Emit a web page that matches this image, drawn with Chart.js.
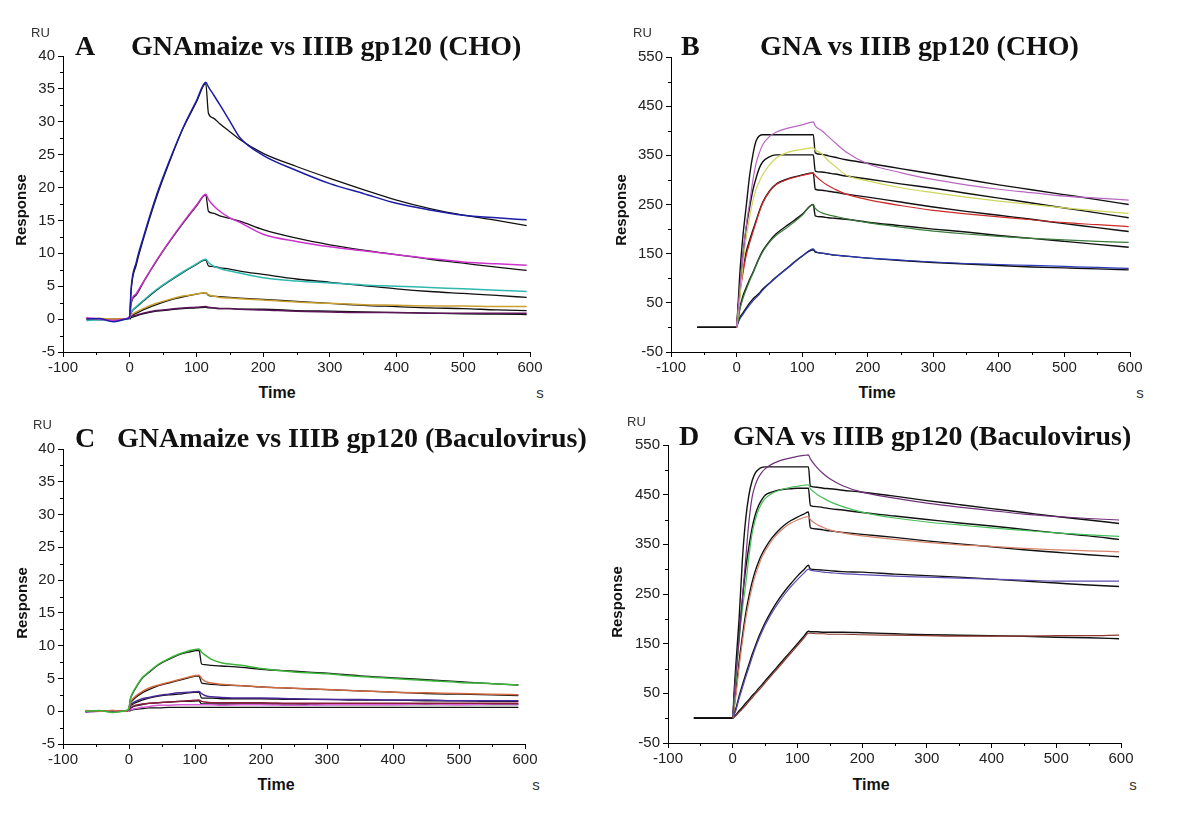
<!DOCTYPE html>
<html>
<head>
<meta charset="utf-8">
<script src="https://cdn.jsdelivr.net/npm/chart.js@4.4.0/dist/chart.umd.min.js"></script>
<style>
    body { margin: 0; width: 1200px; height: 815px; background: #fff; position: relative; overflow: hidden; font-family: "Liberation Sans", Arial, sans-serif; }
    canvas { position: absolute; }
    .txt { position: absolute; white-space: nowrap; line-height: 1; color: #111; }
    .ttl { font-family: "Liberation Serif", "Times New Roman", serif; font-weight: bold; font-size: 28px; }
    .ru { font-size: 13px; color: #333; }
    .ax { font-size: 16px; font-weight: bold; transform: translateX(-50%); }
    .unit { font-size: 15px; color: #333; transform: translateX(-50%); }
    .resp { font-size: 15px; font-weight: bold; transform: translate(-50%, -50%) rotate(-90deg); }
</style>
</head>
<body>
<canvas id="chartA" width="537" height="338" style="left:13px; top:44px;"></canvas>
<canvas id="chartB" width="529" height="337" style="left:621px; top:45px;"></canvas>
<canvas id="chartC" width="532" height="337" style="left:13px; top:437px;"></canvas>
<canvas id="chartD" width="523" height="340" style="left:618px; top:433px;"></canvas>

<div class="txt ttl" style="left:75px; top:32px;">A</div>
<div class="txt ttl" style="left:131px; top:32px;">GNAmaize vs IIIB gp120 (CHO)</div>
<div class="txt ttl" style="left:681px; top:32px;">B</div>
<div class="txt ttl" style="left:760px; top:32px;">GNA vs IIIB gp120 (CHO)</div>
<div class="txt ttl" style="left:75px; top:424px;">C</div>
<div class="txt ttl" style="left:117px; top:424px;">GNAmaize vs IIIB gp120 (Baculovirus)</div>
<div class="txt ttl" style="left:679px; top:422px;">D</div>
<div class="txt ttl" style="left:733px; top:422px;">GNA vs IIIB gp120 (Baculovirus)</div>

<div class="txt ru" style="left:31px; top:26px;">RU</div>
<div class="txt ru" style="left:633px; top:26px;">RU</div>
<div class="txt ru" style="left:33px; top:418px;">RU</div>
<div class="txt ru" style="left:627px; top:415px;">RU</div>

<div class="txt resp" style="left:20px; top:210px;">Response</div>
<div class="txt resp" style="left:620px; top:210px;">Response</div>
<div class="txt resp" style="left:21px; top:603px;">Response</div>
<div class="txt resp" style="left:616px; top:602px;">Response</div>

<div class="txt ax" style="left:277px; top:385px;">Time</div>
<div class="txt ax" style="left:877px; top:385px;">Time</div>
<div class="txt ax" style="left:276px; top:777px;">Time</div>
<div class="txt ax" style="left:871px; top:777px;">Time</div>

<div class="txt unit" style="left:540px; top:385px;">s</div>
<div class="txt unit" style="left:1140px; top:385px;">s</div>
<div class="txt unit" style="left:536px; top:777px;">s</div>
<div class="txt unit" style="left:1133px; top:777px;">s</div>

<script>
// ---------- Panel A: GNAmaize vs IIIB gp120 (CHO) ----------
const tA = [-65, -45, -25, -5, 0, 2, 10, 20, 40, 60, 80, 100, 114, 118, 125, 135, 150, 165, 200, 250, 300, 350, 400, 450, 500, 550, 595];
const aBlue = [0, 0.1, -0.4, 0, 0.3, 4.5, 8.7, 12.3, 18.8, 24.2, 29.1, 33.2, 36, 35.3, 34.2, 32.6, 30.1, 27.6, 24.9, 22.6, 20.6, 19.1, 17.6, 16.6, 15.8, 15.4, 15.1];
const aFit1 = [null, null, null, null, 0, 4.2, 8.3, 12, 18.5, 24, 29, 33, 35.8, 31.3, 30.6, 29.7, 28.5, 27.3, 25.2, 23.2, 21.4, 19.7, 18.1, 16.8, 15.8, 15, 14.2];
const aMag = [0.2, 0, -0.2, 0.1, 0.5, 2.5, 3.9, 5.6, 8.9, 11.9, 14.7, 17.3, 19, 18.2, 17.3, 16.4, 15.4, 14.7, 12.9, 11.8, 11, 10.4, 9.8, 9.2, 8.7, 8.4, 8.2];
const aFit2 = [null, null, null, null, 0, 2.3, 3.7, 5.5, 8.8, 11.8, 14.6, 17.2, 18.9, 16.4, 16.1, 15.7, 15.3, 14.9, 13.6, 12.3, 11.3, 10.5, 9.8, 9.1, 8.5, 7.9, 7.4];
const aCyan = [-0.2, -0.1, -0.3, 0, 0.3, 1, 1.9, 2.8, 4.5, 5.9, 7.2, 8.4, 9.1, 8.6, 8.1, 7.7, 7.3, 7.0, 6.3, 5.8, 5.5, 5.2, 5.0, 4.8, 4.6, 4.4, 4.2];
const aFit3 = [null, null, null, null, 0, 0.9, 1.8, 2.7, 4.4, 5.8, 7.1, 8.3, 9.0, 8.1, 8.0, 7.8, 7.6, 7.3, 6.8, 6.1, 5.6, 5.1, 4.6, 4.2, 3.9, 3.6, 3.3];
const aGold = [0, 0.1, 0, 0, 0.3, 0.6, 1.1, 1.6, 2.4, 3.0, 3.5, 3.8, 4.0, 3.7, 3.5, 3.3, 3.2, 3.1, 2.9, 2.6, 2.4, 2.2, 2.1, 2.0, 2.0, 1.9, 1.9];
const aFit4 = [null, null, null, null, 0, 0.4, 0.9, 1.4, 2.2, 2.9, 3.4, 3.8, 4.0, 3.6, 3.5, 3.4, 3.3, 3.2, 3.0, 2.7, 2.4, 2.1, 1.9, 1.7, 1.6, 1.4, 1.3];
const aPurp = [0.1, -0.1, 0, 0, 0.2, 0.4, 0.6, 0.9, 1.3, 1.5, 1.7, 1.8, 1.9, 1.8, 1.7, 1.6, 1.6, 1.5, 1.4, 1.2, 1.1, 1.0, 1.0, 0.9, 0.9, 0.9, 0.9];
const aFit5 = [null, null, null, null, 0, 0.2, 0.5, 0.8, 1.2, 1.4, 1.6, 1.7, 1.8, 1.7, 1.7, 1.6, 1.6, 1.5, 1.5, 1.3, 1.2, 1.1, 1.0, 0.9, 0.8, 0.75, 0.7];

// ---------- Panel B: GNA vs IIIB gp120 (CHO) ----------
const tB = [-60, 0, 2, 5, 10, 15, 20, 25, 30, 35, 40, 50, 60, 80, 100, 117, 120, 130, 140, 150, 167, 200, 250, 300, 350, 400, 450, 500, 550, 598];
const bFit1 = [0, 0, 40, 110, 190, 250, 310, 352, 380, 390, 392, 392, 392, 392, 392, 392, 355, 352, 349, 346, 341, 334, 323, 312, 301, 290, 280, 270, 260, 250];
const bMag = [null, 0, 30, 80, 150, 210, 255, 300, 335, 356, 372, 388, 397, 406, 412, 418, 410, 400, 388, 376, 357, 333, 315, 301, 290, 281, 274, 267, 263, 259];
const bFit2 = [0, 0, 25, 70, 150, 205, 245, 280, 305, 325, 337, 347, 351, 351, 351, 351, 318, 316, 314, 312, 308, 302, 292, 283, 273, 263, 253, 243, 233, 223];
const bYel = [null, 0, 20, 60, 130, 185, 225, 258, 282, 298, 311, 330, 344, 357, 362, 365, 361, 353, 339, 328, 310, 298, 284, 274, 265, 257, 250, 243, 237, 232];
const bFit3 = [0, 0, 35, 75, 120, 155, 178, 198, 218, 238, 255, 277, 291, 303, 310, 314, 281, 279, 277, 275, 271, 265, 255, 245, 236, 228, 220, 211, 203, 195];
const bRed = [null, 0, 30, 68, 112, 148, 172, 194, 215, 236, 253, 276, 290, 302, 309, 314, 309, 297, 288, 281, 271, 260, 248, 238, 231, 225, 219, 213, 209, 205];
const bFit4 = [0, 0, 15, 40, 65, 82, 98, 112, 128, 143, 156, 175, 190, 210, 230, 250, 227, 225, 223, 222, 220, 214, 207, 200, 194, 187, 181, 175, 169, 163];
const bGreen = [null, 0, 12, 36, 60, 78, 95, 110, 126, 141, 154, 173, 187, 206, 228, 250, 242, 233, 229, 226, 221, 213, 204, 196, 190, 185, 181, 178, 175, 173];
const bFit5 = [0, 0, 10, 20, 30, 40, 50, 58, 64, 70, 78, 90, 102, 124, 145, 158, 153, 151, 149, 147, 145, 141, 136, 132, 129, 126, 123, 121, 119, 117];
const bBlue = [null, 0, 8, 17, 27, 37, 46, 54, 61, 68, 76, 89, 101, 123, 145, 160, 155, 151, 149, 147, 145, 141, 137, 133, 130, 128, 126, 124, 122, 120];

// ---------- Panel C: GNAmaize vs IIIB gp120 (Baculovirus) ----------
const tC = [-66, -45, -25, -5, 0, 2, 5, 10, 20, 30, 45, 60, 75, 90, 106, 110, 115, 125, 140, 170, 200, 250, 300, 350, 400, 450, 500, 550, 590];
const cGreen = [0, 0.1, -0.2, 0.1, 0.5, 1.8, 2.7, 3.6, 5.1, 6.0, 7.2, 8.0, 8.7, 9.2, 9.5, 9.0, 8.6, 7.9, 7.4, 7.0, 6.5, 6.0, 5.7, 5.3, 5.0, 4.7, 4.4, 4.2, 4.0];
const cFit1 = [null, null, null, null, 0.3, 1.8, 2.6, 3.5, 5.0, 5.9, 7.1, 7.9, 8.6, 9.0, 9.3, 7.2, 7.1, 7.0, 6.9, 6.7, 6.4, 6.1, 5.8, 5.4, 5.1, 4.8, 4.5, 4.2, 4.0];
const cOrange = [0.1, 0, 0.1, 0, 0.5, 1.3, 1.8, 2.3, 3.0, 3.5, 4.0, 4.4, 4.8, 5.2, 5.5, 5.0, 4.6, 4.3, 4.1, 3.9, 3.7, 3.5, 3.3, 3.1, 2.9, 2.8, 2.7, 2.6, 2.5];
const cFit2 = [null, null, null, null, 0.3, 1.2, 1.6, 2.1, 2.8, 3.3, 3.9, 4.3, 4.7, 5.1, 5.4, 4.3, 4.2, 4.1, 4.0, 3.9, 3.7, 3.5, 3.3, 3.1, 2.9, 2.7, 2.6, 2.5, 2.4];
const cIndigo = [-0.1, 0, 0, 0, 0.3, 0.9, 1.2, 1.5, 1.9, 2.1, 2.4, 2.6, 2.8, 2.9, 3.0, 2.7, 2.4, 2.2, 2.1, 2.0, 2.0, 1.9, 1.8, 1.8, 1.7, 1.7, 1.6, 1.6, 1.6];
const cFit3 = [null, null, null, null, 0.2, 0.8, 1.0, 1.3, 1.7, 2.0, 2.3, 2.5, 2.6, 2.8, 2.9, 2.0, 2.0, 2.0, 1.9, 1.9, 1.9, 1.8, 1.8, 1.7, 1.7, 1.6, 1.6, 1.5, 1.5];
const cMaroon = [0, 0, 0, 0, 0.2, 0.5, 0.7, 0.9, 1.1, 1.2, 1.3, 1.4, 1.5, 1.6, 1.7, 1.5, 1.4, 1.3, 1.3, 1.3, 1.3, 1.2, 1.2, 1.2, 1.2, 1.2, 1.2, 1.2, 1.2];
const cFit4 = [null, null, null, null, 0.1, 0.4, 0.6, 0.8, 1.0, 1.2, 1.3, 1.4, 1.5, 1.5, 1.6, 1.1, 1.1, 1.1, 1.1, 1.1, 1.1, 1.1, 1.0, 1.0, 1.0, 1.0, 1.0, 1.0, 1.0];
const cPink = [-0.1, 0, 0.1, 0, 0.1, 0.2, 0.3, 0.4, 0.6, 0.7, 0.9, 0.9, 1.0, 1.0, 1.0, 1.0, 1.0, 1.0, 0.9, 1.0, 1.0, 0.9, 1.0, 1.0, 1.0, 1.1, 1.0, 1.1, 1.1];
const cFit5 = [null, null, null, null, 0, 0.1, 0.2, 0.3, 0.4, 0.5, 0.5, 0.6, 0.6, 0.6, 0.6, 0.6, 0.6, 0.6, 0.6, 0.6, 0.6, 0.6, 0.6, 0.6, 0.6, 0.6, 0.6, 0.6, 0.6];

// ---------- Panel D: GNA vs IIIB gp120 (Baculovirus) ----------
const tD = [-60, 0, 2, 5, 10, 15, 20, 25, 30, 35, 40, 45, 50, 60, 70, 80, 90, 100, 110, 117, 120, 130, 140, 150, 170, 200, 250, 300, 350, 400, 450, 500, 550, 597];
const dFit1 = [0, 0, 50, 110, 203, 320, 400, 449, 478, 494, 501, 505, 506, 506, 506, 506, 506, 506, 506, 506, 467, 465, 463, 462, 459, 455, 447, 438, 430, 422, 414, 406, 399, 392];
const dPurp = [null, 0, 40, 90, 160, 240, 320, 395, 445, 470, 485, 495, 502, 511, 517, 521, 524, 527, 529, 530, 522, 505, 492, 482, 468, 455, 443, 433, 425, 418, 411, 406, 402, 399];
const dFit2 = [0, 0, 35, 90, 170, 240, 300, 345, 383, 410, 428, 440, 449, 455, 459, 461, 462, 463, 463, 463, 428, 426, 424, 422, 419, 414, 407, 400, 393, 387, 380, 373, 367, 360];
const dGreen = [null, 0, 30, 80, 160, 220, 269, 325, 372, 400, 420, 433, 442, 452, 458, 462, 465, 467, 469, 470, 462, 451, 443, 436, 426, 415, 403, 395, 389, 383, 378, 373, 369, 366];
const dFit3 = [0, 0, 20, 55, 115, 165, 210, 245, 274, 297, 315, 330, 342, 362, 377, 389, 398, 405, 411, 415, 383, 381, 379, 377, 374, 370, 364, 357, 351, 345, 339, 334, 329, 325];
const dSalmon = [null, 0, 18, 46, 104, 154, 199, 234, 264, 288, 307, 324, 336, 357, 372, 384, 393, 399, 404, 406, 400, 390, 384, 379, 373, 367, 360, 354, 349, 346, 342, 339, 337, 335];
const dFit4 = [0, 0, 8, 20, 45, 67, 88, 108, 128, 146, 163, 178, 192, 216, 237, 255, 271, 286, 299, 308, 300, 299, 298, 297, 295, 294, 290, 287, 284, 280, 276, 272, 268, 265];
const dBlue = [null, 0, 6, 16, 40, 61, 82, 102, 122, 141, 158, 173, 187, 211, 231, 249, 265, 279, 292, 300, 298, 296, 294, 293, 291, 289, 286, 284, 282, 280, 278, 276, 276, 276];
const dFit5 = [0, 0, 3, 7, 15, 22, 30, 37, 45, 52, 60, 67, 75, 90, 105, 120, 135, 150, 165, 175, 174, 174, 173, 173, 173, 172, 170, 168, 167, 166, 165, 163, 162, 160];
const dBrown = [null, 0, 2, 5, 12, 19, 26, 34, 41, 49, 56, 63, 71, 86, 101, 116, 131, 146, 161, 171, 171, 170, 170, 169, 169, 168, 167, 166, 165, 165, 165, 166, 166, 167];

const FIT = '#111111';

// short ticks half way between the labelled ones
const minorTicks = {
    id: 'minorTicks',
    afterDraw(chart) {
        const ctx = chart.ctx;
        ctx.save();
        ctx.strokeStyle = '#000';
        ctx.lineWidth = 1;
        ctx.beginPath();
        ['x', 'y'].forEach(id => {
            const sc = chart.scales[id];
            const vals = sc.ticks.map(t => t.value);
            for (let i = 1; i < vals.length; i++) {
                const p = Math.round(sc.getPixelForValue((vals[i - 1] + vals[i]) / 2)) + 0.5;
                if (id === 'x') {
                    ctx.moveTo(p, sc.top);
                    ctx.lineTo(p, sc.top + 3);
                } else {
                    ctx.moveTo(sc.right, p);
                    ctx.lineTo(sc.right - 3, p);
                }
            }
        });
        ctx.stroke();
        ctx.restore();
    }
};

function line(times, vals, color, width) {
    return {
        data: times.map((t, i) => ({ x: t, y: vals[i] })),
        borderColor: color,
        borderWidth: width,
        pointRadius: 0,
        fill: false,
        cubicInterpolationMode: 'monotone'
    };
}

function makeChart(id, datasets, yMin, yMax, yStep) {
    const tickFont = { family: 'Liberation Sans', size: 15 };
    return new Chart(document.getElementById(id), {
        type: 'line',
        data: { datasets: datasets },
        plugins: [minorTicks],
        options: {
            responsive: false,
            animation: false,
            layout: { padding: { top: 10, right: 20, left: 0, bottom: 0 } },
            plugins: { legend: { display: false }, tooltip: { enabled: false } },
            scales: {
                x: {
                    type: 'linear', min: -100, max: 600,
                    ticks: { stepSize: 100, autoSkip: false, maxRotation: 0, padding: 2, color: '#222', font: tickFont },
                    grid: { drawOnChartArea: false, tickLength: 5, tickColor: '#000' },
                    border: { color: '#000', width: 1 },
                    afterFit: s => { s.height = 30; }
                },
                y: {
                    min: yMin, max: yMax,
                    ticks: { stepSize: yStep, autoSkip: false, padding: 3, color: '#222', font: tickFont },
                    grid: { drawOnChartArea: false, tickLength: 5, tickColor: '#000' },
                    border: { color: '#000', width: 1 },
                    afterFit: s => { s.width = 50; }
                }
            }
        }
    });
}

// measured curves come first so they sit over the black fitted curves
makeChart('chartA', [
    line(tA, aBlue, '#1c1ca6', 1.5), line(tA, aMag, '#cc33cc', 1.5), line(tA, aCyan, '#2fb8b0', 1.5),
    line(tA, aGold, '#caa030', 1.5), line(tA, aPurp, '#5b1558', 1.5),
    line(tA, aFit1, FIT, 1.3), line(tA, aFit2, FIT, 1.3), line(tA, aFit3, FIT, 1.3),
    line(tA, aFit4, FIT, 1.3), line(tA, aFit5, FIT, 1.3)
], -5, 40, 5);

makeChart('chartB', [
    line(tB, bMag, '#b868c0', 1.2), line(tB, bYel, '#cfd65a', 1.2), line(tB, bRed, '#cc2a2a', 1.2),
    line(tB, bGreen, '#3c7c3c', 1.2), line(tB, bBlue, '#2a3ab8', 1.2),
    line(tB, bFit1, FIT, 1.4), line(tB, bFit2, FIT, 1.4), line(tB, bFit3, FIT, 1.4),
    line(tB, bFit4, FIT, 1.4), line(tB, bFit5, FIT, 1.4)
], -50, 550, 100);

makeChart('chartC', [
    line(tC, cGreen, '#3cb43c', 1.5), line(tC, cOrange, '#d06a40', 1.5), line(tC, cIndigo, '#4a2a9a', 1.5),
    line(tC, cMaroon, '#8c1c3c', 1.5), line(tC, cPink, '#d860d8', 1.5),
    line(tC, cFit1, FIT, 1.3), line(tC, cFit2, FIT, 1.3), line(tC, cFit3, FIT, 1.3),
    line(tC, cFit4, FIT, 1.3), line(tC, cFit5, FIT, 1.3)
], -5, 40, 5);

makeChart('chartD', [
    line(tD, dPurp, '#70307a', 1.2), line(tD, dGreen, '#46c05a', 1.2), line(tD, dSalmon, '#d8846c', 1.2),
    line(tD, dBlue, '#5a4cb0', 1.2), line(tD, dBrown, '#8c3a30', 1.2),
    line(tD, dFit1, FIT, 1.4), line(tD, dFit2, FIT, 1.4), line(tD, dFit3, FIT, 1.4),
    line(tD, dFit4, FIT, 1.4), line(tD, dFit5, FIT, 1.4)
], -50, 550, 100);
</script>
</body>
</html>
